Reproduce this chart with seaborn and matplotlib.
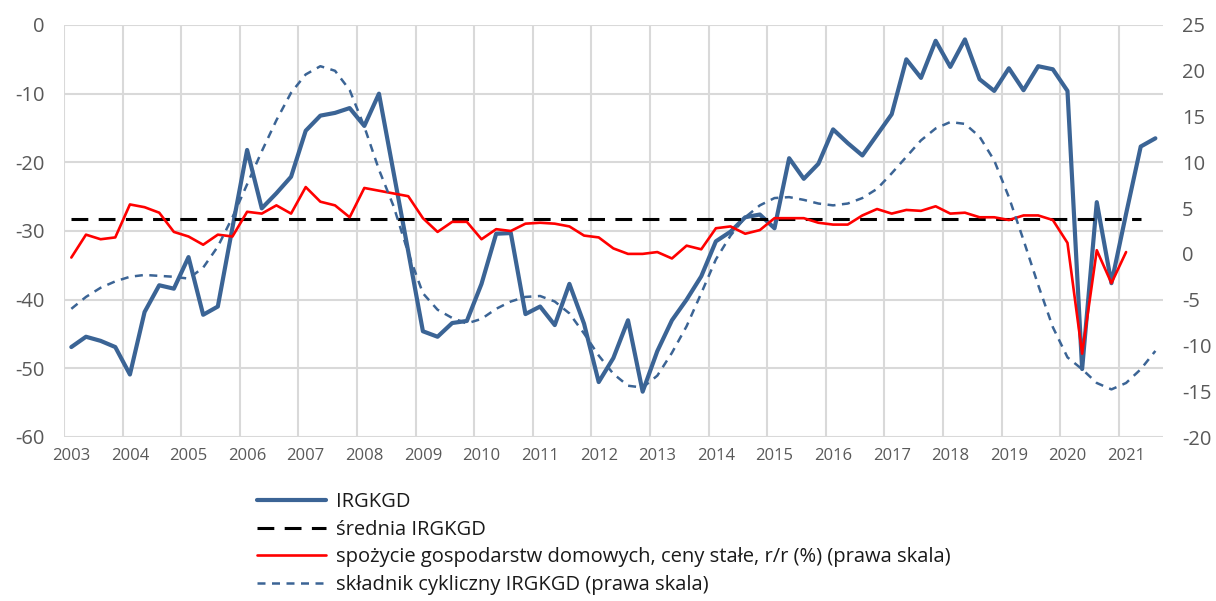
import matplotlib
matplotlib.use("Agg")
import matplotlib.pyplot as plt
from matplotlib.ticker import FixedLocator, FixedFormatter
import seaborn as sns
import numpy as np

# ---------------- data ----------------
years = [str(y) for y in range(2003, 2022)]          # year tick labels (Q1 of each year)
quarters = list(range(75))                            # 2003Q1 .. 2021Q3

irgkgd = [-46.9, -45.4, -46.0, -46.9, -50.9, -41.8, -37.9, -38.4, -33.8, -42.2,
          -41.0, -29.5, -18.2, -26.7, -24.5, -22.1, -15.4, -13.2, -12.8, -12.1,
          -14.7, -10.0, -21.5, -33.0, -44.6, -45.4, -43.4, -43.1, -37.7, -30.4,
          -30.3, -42.1, -41.0, -43.7, -37.7, -43.5, -52.0, -48.5, -43.0, -53.4,
          -47.5, -43.0, -40.0, -36.6, -31.5, -30.1, -28.0, -27.6, -29.6, -19.4,
          -22.4, -20.2, -15.2, -17.2, -19.0, -16.0, -13.0, -5.0, -7.7, -2.3,
          -6.1, -2.1, -7.9, -9.6, -6.3, -9.5, -6.0, -6.45, -9.6, -50.1,
          -25.8, -37.6, -27.5, -17.7, -16.5]

srednia = -28.3          # mean of IRGKGD
srednia_n = 74           # number of quarters the mean line spans

spozycie = [-0.4, 2.1, 1.6, 1.8, 5.4, 5.1, 4.5, 2.4, 1.9, 1.0,
            2.1, 1.9, 4.6, 4.4, 5.3, 4.4, 7.3, 5.7, 5.3, 4.0,
            7.2, 6.9, 6.6, 6.3, 3.9, 2.4, 3.5, 3.5, 1.6, 2.7,
            2.5, 3.3, 3.4, 3.3, 3.0, 2.0, 1.8, 0.6, 0.0, 0.0,
            0.2, -0.5, 0.9, 0.5, 2.8, 3.0, 2.2, 2.6, 3.9, 3.9,
            3.9, 3.4, 3.2, 3.2, 4.2, 4.9, 4.4, 4.8, 4.7, 5.2,
            4.4, 4.5, 4.0, 4.0, 3.7, 4.2, 4.2, 3.7, 1.2, -10.9,
            0.4, -3.2, 0.2]

cykliczny = [-6.0, -4.7, -3.7, -3.0, -2.5, -2.3, -2.4, -2.5, -2.7, -1.5,
             0.8, 4.0, 7.6, 11.2, 14.6, 17.6, 19.6, 20.5, 20.0, 17.9,
             13.9, 9.2, 5.2, 0.1, -4.3, -6.1, -7.0, -7.6, -7.1, -6.0,
             -5.2, -4.7, -4.6, -5.2, -6.5, -8.7, -11.1, -13.1, -14.4, -14.6,
             -13.3, -10.8, -7.9, -4.3, -0.6, 2.0, 4.0, 5.3, 6.1, 6.2,
             5.9, 5.5, 5.3, 5.5, 6.1, 7.1, 8.8, 10.6, 12.4, 13.7,
             14.4, 14.2, 12.8, 10.2, 6.2, 1.5, -3.4, -8.0, -11.3, -12.6,
             -14.1, -14.8, -14.1, -12.6, -10.6]

labels = ["IRGKGD",
          "średnia IRGKGD",
          "spożycie gospodarstw domowych, ceny stałe, r/r (%) (prawa skala)",
          "składnik cykliczny IRGKGD (prawa skala)"]

left_ticks = [0, -10, -20, -30, -40, -50, -60]
right_ticks = [25, 20, 15, 10, 5, 0, -5, -10, -15, -20]

# ---------------- style ----------------
sns.set_theme(style="white")
plt.rcParams["font.family"] = ["Open Sans", "DejaVu Sans"]

BLUE = "#3B6495"
RED = "#FF0000"
GRID = "#D9D9D9"
TXT = "#595959"

fig = plt.figure(figsize=(12.16, 6.01), dpi=100)
ax = fig.add_axes([64 / 1216, 1 - 437 / 601, (1162.7 - 64) / 1216, 412 / 601])
ax2 = ax.twinx()

n = len(quarters)
sns.lineplot(x=quarters, y=irgkgd, ax=ax, color=BLUE, linewidth=3.0,
             label=labels[0], legend=False)
sns.lineplot(x=quarters[:srednia_n], y=[srednia] * srednia_n, ax=ax, color="black",
             linewidth=2.2, label=labels[1], legend=False)
ax.lines[-1].set_dashes((5.5, 3.4))

sns.lineplot(x=quarters[:len(spozycie)], y=spozycie, ax=ax2, color=RED, linewidth=1.9,
             label=labels[2], legend=False)
sns.lineplot(x=quarters, y=cykliczny, ax=ax2, color=BLUE, linewidth=1.8,
             label=labels[3], legend=False)
ax2.lines[-1].set_dashes((3.2, 2.6))

for a in (ax, ax2):
    if a.get_legend() is not None:
        a.get_legend().remove()
    for s in a.spines.values():
        s.set_visible(False)

ax.set_xlim(-0.5, n - 0.5)
ax.set_ylim(-60, 0)
ax2.set_ylim(-20, 25)

# x axis: labels at Q1 of each year, gridlines at year boundaries
ax.xaxis.set_major_locator(FixedLocator([4 * k for k in range(len(years))]))
ax.xaxis.set_major_formatter(FixedFormatter(years))
ax.xaxis.set_minor_locator(FixedLocator([4 * k - 0.5 for k in range(len(years))]))
ax.set_yticks(left_ticks)
ax.set_yticklabels([str(t) for t in left_ticks])
ax2.set_yticks(right_ticks)
ax2.set_yticklabels([str(t) for t in right_ticks])

ax.grid(False)
ax2.grid(False)
ax.grid(True, axis="y", which="major", color=GRID, linewidth=1.5)
ax.grid(True, axis="x", which="minor", color=GRID, linewidth=1.5)
ax.set_axisbelow(True)

ax.tick_params(axis="x", which="both", length=0, pad=8, labelsize=12, labelcolor=TXT)
ax.tick_params(axis="y", length=0, pad=14, labelsize=14.5, labelcolor=TXT)
ax2.tick_params(axis="y", length=0, pad=14, labelsize=14.5, labelcolor=TXT)
for t in ax2.get_yticklabels():
    t.set_horizontalalignment("left")

ax.set_xlabel("")
ax.set_ylabel("")
ax2.set_ylabel("")

handles = [ax.lines[0], ax.lines[1], ax2.lines[0], ax2.lines[1]]
fig.legend(handles, labels, loc="upper left", bbox_to_anchor=(257 / 1216, 1 - 492 / 601),
           frameon=False, fontsize=14.5, handlelength=3.45, handletextpad=0.45,
           labelspacing=0.38, borderpad=0, borderaxespad=0, labelcolor="#1a1a1a")

fig.savefig("out.png", dpi=100)
